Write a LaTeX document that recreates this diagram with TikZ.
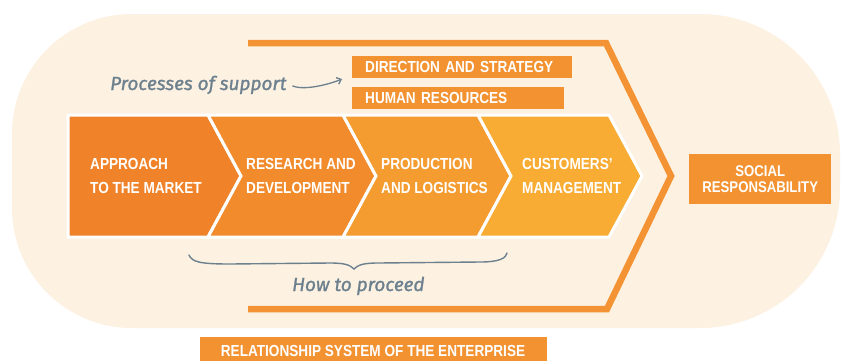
\documentclass[tikz,border=0pt]{standalone}
\usepackage{fontspec}
\usetikzlibrary{arrows.meta}
\newfontfamily\capsfont[FakeStretch=0.85]{Liberation Sans}
\newfontfamily\handfont[FakeBold=1.2]{Fira Sans}
\definecolor{cream}{HTML}{FDF1E2}
\definecolor{cA}{HTML}{F0832A}
\definecolor{cB}{HTML}{F28B2C}
\definecolor{cC}{HTML}{F59C31}
\definecolor{cD}{HTML}{F8AC34}
\definecolor{framec}{HTML}{F39333}
\definecolor{boxc}{HTML}{F39231}
\definecolor{slate}{HTML}{6C808E}
\tikzset{
  chev/.style={draw=white, line width=3pt, line join=miter},
  steplabel/.style={anchor=base west, inner sep=0pt, text=white, font=\capsfont\bfseries\fontsize{16}{18}\selectfont},
  tagbox/.style={fill=boxc, anchor=north west, inner ysep=0pt, inner xsep=13pt, minimum height=22pt, align=left, text=white, font=\capsfont\bfseries\fontsize{16}{18}\selectfont},
  handnote/.style={anchor=base west, inner sep=0pt, text=slate, font=\handfont\itshape\fontsize{19}{22}\selectfont},
}
\begin{document}
\begin{tikzpicture}[x=1pt,y=-1pt]
\useasboundingbox (0,0) rectangle (848,360);
\fill[white] (0,0) rectangle (848,360);
% background
\fill[cream] (132,14) -- (700,14) arc[start angle=90, end angle=0, radius=140pt]
  -- (840,188) arc[start angle=0, end angle=-90, radius=140pt]
  -- (132,328) arc[start angle=-90, end angle=-180, radius=120pt]
  -- (12,134) arc[start angle=180, end angle=90, radius=120pt] -- cycle;
% frame
\draw[framec, line width=6.5pt, miter limit=10] (248,43) -- (606,43) -- (671,176) -- (607,309) -- (248,309);
% chevrons
\filldraw[chev, fill=cA] (68,115) -- (208,115) -- (241,176) -- (208,237) -- (68,237) -- cycle;
\filldraw[chev, fill=cB] (208,115) -- (343,115) -- (376,176) -- (343,237) -- (208,237) -- (241,176) -- cycle;
\filldraw[chev, fill=cC] (343,115) -- (478,115) -- (511,176) -- (478,237) -- (343,237) -- (376,176) -- cycle;
\filldraw[chev, fill=cD] (478,115) -- (609,115) -- (642,176) -- (609,237) -- (478,237) -- (511,176) -- cycle;
% chevron labels
\node[steplabel] (a1) at (90,169) {APPROACH};
\node[steplabel] (a2) at (90,193) {TO THE MARKET};
\node[steplabel] (b1) at (246,169) {RESEARCH AND};
\node[steplabel] (b2) at (246,193) {DEVELOPMENT};
\node[steplabel] (c1) at (381,169) {PRODUCTION};
\node[steplabel] (c2) at (381,193) {AND LOGISTICS};
\node[steplabel] (d1) at (522,169) {CUSTOMERS’};
\node[steplabel] (d2) at (522,193) {MANAGEMENT};
% support boxes
\node[tagbox, text width=194pt] (dir) at (352,56) {DIRECTION AND STRATEGY};
\node[tagbox, text width=186pt] (hr) at (352,87) {HUMAN RESOURCES};
% social
\node[fill=boxc, anchor=north west, minimum width=142pt, minimum height=50pt, inner sep=0pt, align=center, text=white,
  font=\capsfont\bfseries\fontsize{15.5}{16.5}\selectfont] (soc) at (689,154) {SOCIAL\\RESPONSABILITY};
% relationship
\node[fill=boxc, anchor=north west, minimum width=347pt, minimum height=30pt, inner sep=0pt] (rel) at (200,337) {};
\node[anchor=base, inner sep=0pt, text=white, font=\capsfont\bfseries\fontsize{16}{18}\selectfont] (reltxt) at (373,356) {RELATIONSHIP SYSTEM OF THE ENTERPRISE};
% hand notes
\node[handnote] (proc) at (110,90) {Processes of support};
\coordinate (arrowend) at (342,79);
\draw[slate, line width=1.3pt, line cap=round, -{Straight Barb[length=4pt,width=7pt]}]
  ([xshift=6pt,yshift=-1pt]proc.east) .. controls +(12,5) and +(-12,5) .. (arrowend);
\node[handnote] (how) at (292,291) {How to proceed};
% brace
\coordinate (brL) at (189,255);
\coordinate (brM) at (354,269);
\coordinate (brR) at (507,253);
\draw[slate, line width=1.4pt, line cap=round]
  (brL) .. controls (192,262) and (200,264) .. (230,264) -- (330,263)
  .. controls (345,263) and (350,265) .. (brM)
  .. controls (358,265) and (363,263) .. (378,263) -- (480,262)
  .. controls (500,262) and (506,258) .. (brR);
\end{tikzpicture}
\end{document}
